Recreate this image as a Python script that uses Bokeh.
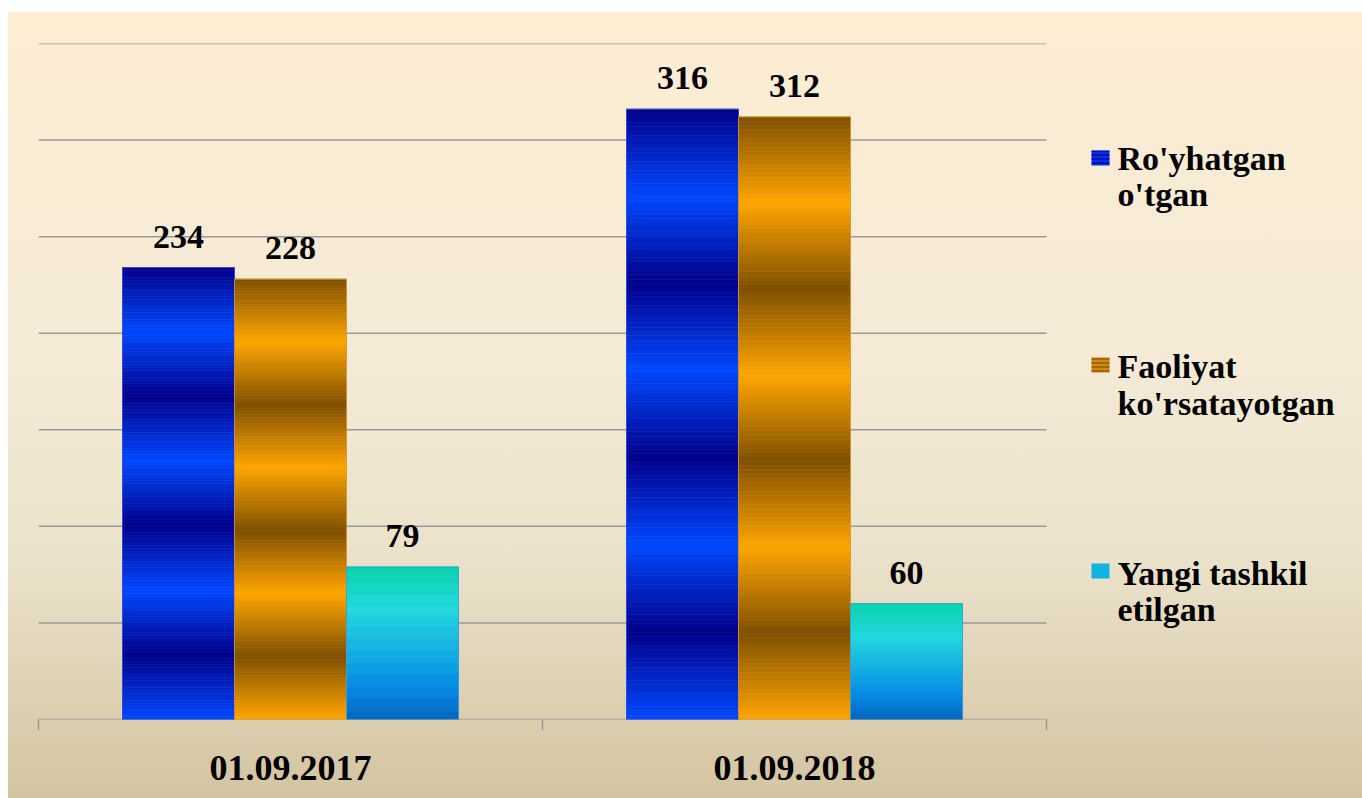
from bokeh.plotting import figure
from bokeh.models import ColumnDataSource, Range1d, FixedTicker, LabelSet
from bokeh.core.properties import value
from bokeh.embed import file_html
from bokeh.resources import INLINE

# ---------------- data ----------------
dates = ["01.09.2017", "01.09.2018"]
series_names = ["Ro'yhatgan o'tgan", "Faoliyat ko'rsatayotgan", "Yangi tashkil etilgan"]
registered = [234, 316]     # Ro'yhatgan o'tgan
active = [228, 312]         # Faoliyat ko'rsatayotgan
new_created = [79, 60]      # Yangi tashkil etilgan
legend_lines = [["Ro'yhatgan", "o'tgan"],
                ["Faoliyat", "ko'rsatayotgan"],
                ["Yangi tashkil", "etilgan"]]
y_ticks = [0, 50, 100, 150, 200, 250, 300, 350]

all_series = [registered, active, new_created]

# ---------------- styles ----------------
FONT = "Liberation Serif"
BAR_W = 112.0 / 504.0
OFFSETS = [-BAR_W, 0.0, BAR_W]
W, H = 1362, 798
LEFT, TOP, BOTTOM = 38, 43, 719
X_END = (W - LEFT) / 504.0


def hex2rgb(h):
    h = h.lstrip("#")
    return tuple(int(h[i:i + 2], 16) for i in (0, 2, 4))


def rgb2hex(c):
    return "#%02x%02x%02x" % tuple(int(round(max(0, min(255, v)))) for v in c)


def lerp(c1, c2, t):
    a, b = hex2rgb(c1), hex2rgb(c2)
    return rgb2hex([a[i] + (b[i] - a[i]) * t for i in range(3)])


def banded(dark, bright):
    def f(frac):  # frac: 0 at top of bar, 1 at bottom
        p = frac * 7.0
        k = int(p)
        if k >= 7:
            k, t = 6, 1.0
        else:
            t = p - k
        if k % 2 == 0:
            return lerp(dark, bright, t)
        return lerp(bright, dark, t)
    return f


def stops(stop_list):
    def f(frac):
        for (p0, c0), (p1, c1) in zip(stop_list[:-1], stop_list[1:]):
            if frac <= p1:
                return lerp(c0, c1, (frac - p0) / (p1 - p0))
        return stop_list[-1][1]
    return f


grad_funcs = [
    banded("#00008b", "#0048ff"),
    banded("#7f5000", "#ffa500"),
    stops([(0.0, "#05d3ab"), (0.28, "#20d8e0"), (0.55, "#10b0e4"),
           (0.8, "#0088e6"), (1.0, "#0064c0")]),
]
outline_colors = ["#3050d8", "#d89a30", "#3a9ad8"]

N = 140
xs, bots, tops, cols = [], [], [], []
for s, vals in enumerate(all_series):
    for i, v in enumerate(vals):
        xc = i + 0.5 + OFFSETS[s]
        for k in range(N):
            xs.append(xc)
            tops.append(v * (1 - k / N))
            bots.append(v * (1 - (k + 1) / N))
            cols.append(grad_funcs[s]((k + 0.5) / N))

strips = ColumnDataSource(dict(x=xs, top=tops, bottom=bots, color=cols))

p = figure(width=W, height=H, output_backend="svg", toolbar_location=None,
           x_range=Range1d(0, X_END), y_range=Range1d(0, 350),
           min_border_left=LEFT, min_border_right=0, min_border_top=TOP,
           min_border_bottom=H - BOTTOM)
p.styles = {"background": "linear-gradient(to right, #ffffff 0px, #ffffff 8px, rgba(255,255,255,0) 8px), "
                          "linear-gradient(to bottom, #ffffff 0px, #ffffff 12px, "
                          "#fdedd3 12px, #f4ead6 45%, #ebe2cb 70%, #d3c4a1 100%)"}
p.border_fill_color = None
p.background_fill_color = None
p.outline_line_color = None

p.yaxis.visible = False
p.xgrid.visible = False
p.ygrid.visible = False

ncat = len(dates)
# horizontal grid lines (span the category area only)
p.segment(x0=[0] * len(y_ticks), x1=[ncat] * len(y_ticks), y0=y_ticks, y1=y_ticks,
          line_color="#9a9a9a", line_width=1.5)

ax = p.xaxis[0]
ax.ticker = FixedTicker(ticks=[i + 0.5 for i in range(ncat)],
                        minor_ticks=list(range(ncat + 1)))
ax.major_label_overrides = {i + 0.5: d for i, d in enumerate(dates)}
ax.axis_line_color = None
ax.major_tick_out = 0
ax.major_tick_in = 0
ax.minor_tick_out = 11
ax.minor_tick_in = 0
ax.minor_tick_line_color = "#9a9a9a"
ax.minor_tick_line_width = 1.5
ax.major_label_text_font = FONT
ax.major_label_text_font_style = "bold"
ax.major_label_text_font_size = "36px"
ax.major_label_text_color = "black"
ax.major_label_standoff = 25

p.vbar(x="x", top="top", bottom="bottom", width=BAR_W, source=strips,
       fill_color="color", line_color="color", line_width=0.6)

# outlines + value labels
lx, ly, lt = [], [], []
for s, vals in enumerate(all_series):
    ox = [i + 0.5 + OFFSETS[s] for i in range(len(vals))]
    p.vbar(x=ox, top=vals, bottom=0, width=BAR_W, fill_color=None,
           line_color=outline_colors[s], line_width=1, line_alpha=0.8)
    lx += ox
    ly += vals
    lt += [str(v) for v in vals]

labels = LabelSet(x="x", y="y", text="t", source=ColumnDataSource(dict(x=lx, y=ly, t=lt)),
                  text_font=value(FONT), text_font_style="bold", text_font_size="34px",
                  text_color="black", text_align="center", text_baseline="alphabetic",
                  y_offset=20)
p.add_layout(labels)


# ---------------- legend (manual, multi-line) ----------------
def dx(px):
    return (px - LEFT) / 504.0


def dy(py):
    return (BOTTOM - py) * 350.0 / (BOTTOM - TOP)


sw_fill = ["#0030e8", "#d08a10", "#10b4e0"]
sw_hatch = ["#000090", "#805000", None]
sw_tops = [150, 357, 563]
baselines = [[158, 194], [366, 403], [573, 609]]
for s in range(3):
    kw = {}
    if sw_hatch[s]:
        kw = dict(hatch_pattern="horizontal_line", hatch_color=sw_hatch[s],
                  hatch_scale=4, hatch_weight=1.2)
    p.quad(left=[dx(1091)], right=[dx(1109)], top=[dy(sw_tops[s])],
           bottom=[dy(sw_tops[s] + 15)], fill_color=sw_fill[s], line_color=None, **kw)
    tx = [dx(1117)] * len(legend_lines[s])
    ty = [dy(b) for b in baselines[s]]
    p.text(x=tx, y=ty, text=legend_lines[s], text_font=value(FONT),
           text_font_style="bold", text_font_size="34px", text_color="black",
           text_baseline="alphabetic", text_align="left")

open("out.html", "w").write(file_html(p, INLINE))
